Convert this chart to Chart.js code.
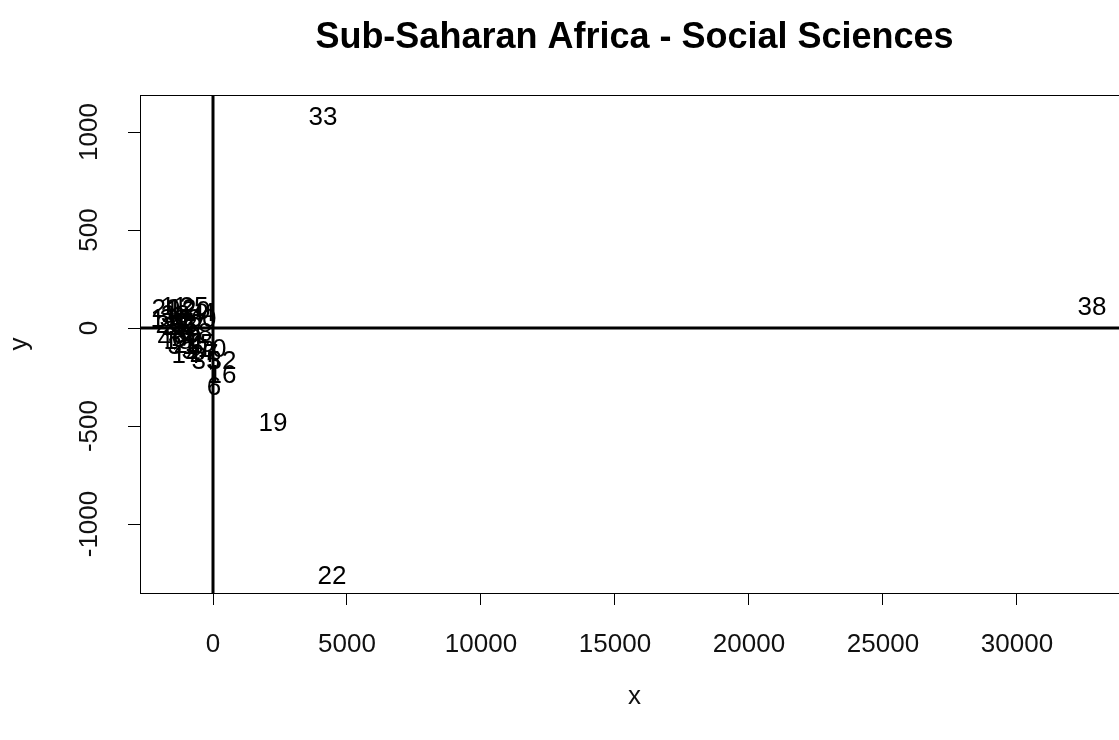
<!DOCTYPE html>
<html>
<head>
<meta charset="utf-8">
<script src="https://cdn.jsdelivr.net/npm/chart.js@4/dist/chart.umd.min.js"></script>
<style>
  html, body { margin: 0; padding: 0; background: #fff; overflow: hidden; }
  #wrap { width: 1130px; height: 740px; }
</style>
</head>
<body>
<div id="wrap"><canvas id="demo" width="1130" height="740"></canvas></div>
<script>
// point labels and coordinates
const labels = ["1","2","3","4","5","6","7","8","9","10","11","12","13","14","15","16","17","18","19","20",
  "21","22","23","24","25","26","27","28","29","30","31","32","33","34","35","36","37","38","39","40"];
const xVals = [-1530,-1306,-1680,-187,-1007,37,-858,-1231,-672,-37,-1455,-1157,-1791,-1007,-485,336,-784,-1306,2240,-634,
  -1082,4440,-1604,-933,-709,-1380,-336,-560,-1754,-410,-1157,336,4104,-858,-261,-1455,-634,32800,-1007,-1530];
const yVals = [82,51,61,71,41,-306,-10,-41,-61,-112,102,92,41,-143,-87,-245,15,-71,-490,82,
  0,-1270,10,-92,102,0,-138,-31,92,41,-97,-173,1071,61,-173,41,-122,102,-41,-61];
const xTicks = [0, 5000, 10000, 15000, 20000, 25000, 30000];
const yTicks = [-1000, -500, 0, 500, 1000];

const FONT = "'Liberation Sans', Arial, sans-serif";

const rStyle = {
  id: "rStyle",
  beforeDatasetsDraw(chart) {
    const { ctx, chartArea: a, scales } = chart;
    ctx.save();
    ctx.strokeStyle = "#000";
    ctx.lineWidth = 3;
    const x0 = scales.x.getPixelForValue(0);
    const y0 = scales.y.getPixelForValue(0);
    ctx.beginPath();
    ctx.moveTo(x0, a.top); ctx.lineTo(x0, a.bottom);
    ctx.moveTo(a.left, y0); ctx.lineTo(a.right, y0);
    ctx.stroke();
    ctx.restore();
  },
  afterDatasetsDraw(chart) {
    const { ctx, chartArea: a, scales } = chart;
    ctx.save();
    // point labels
    ctx.fillStyle = "#000";
    ctx.font = "26px " + FONT;
    ctx.textAlign = "center";
    ctx.textBaseline = "middle";
    chart.getDatasetMeta(0).data.forEach((el, i) => {
      ctx.fillText(labels[i], el.x, el.y);
    });
    // box
    ctx.strokeStyle = "#000";
    ctx.lineWidth = 1;
    ctx.strokeRect(a.left + 0.5, a.top + 0.5, a.right - a.left, a.bottom - a.top);
    // y tick labels, rotated like R
    ctx.fillStyle = "#111";
    ctx.font = "26px " + FONT;
    scales.y.ticks.forEach(t => {
      const py = scales.y.getPixelForValue(t.value);
      ctx.save();
      ctx.translate(90, py);
      ctx.rotate(-Math.PI / 2);
      ctx.fillText(String(t.value), 0, 0);
      ctx.restore();
    });
    // title
    ctx.fillStyle = "#000";
    ctx.font = "bold 36px " + FONT;
    ctx.fillText("Sub-Saharan Africa - Social Sciences", (a.left + a.right) / 2, 38);
    ctx.restore();
  }
};

new Chart(document.getElementById("demo").getContext("2d"), {
  type: "scatter",
  data: {
    datasets: [{
      data: xVals.map((x, i) => ({ x: x, y: yVals[i] })),
      pointRadius: 0,
      pointHoverRadius: 0
    }]
  },
  options: {
    responsive: false,
    animation: false,
    events: [],
    layout: { padding: { top: 95, right: 1, left: 0, bottom: 0 } },
    plugins: { legend: { display: false }, tooltip: { enabled: false }, title: { display: false } },
    scales: {
      x: {
        type: "linear",
        min: -2724,
        max: 34180,
        afterBuildTicks: s => { s.ticks = xTicks.map(v => ({ value: v })); },
        afterFit: s => { s.height = 147; },
        grid: { drawOnChartArea: false, color: "#000", tickLength: 12, lineWidth: 1 },
        border: { display: true, color: "#000", width: 1 },
        ticks: { color: "#111", font: { family: FONT, size: 26 }, padding: 24, maxRotation: 0, autoSkip: false,
          callback: v => String(v) },
        title: { display: true, text: "x", color: "#111", font: { family: FONT, size: 26 }, padding: { bottom: 28 } }
      },
      y: {
        type: "linear",
        min: -1352,
        max: 1189,
        afterBuildTicks: s => { s.ticks = yTicks.map(v => ({ value: v })); },
        afterFit: s => { s.width = 140; },
        grid: { drawOnChartArea: false, color: "#000", tickLength: 12, lineWidth: 1 },
        border: { display: true, color: "#000", width: 1 },
        ticks: { display: false },
        title: { display: true, text: "y", color: "#111", font: { family: FONT, size: 26 }, padding: { top: 4 } }
      }
    }
  },
  plugins: [rStyle]
});
</script>
</body>
</html>
